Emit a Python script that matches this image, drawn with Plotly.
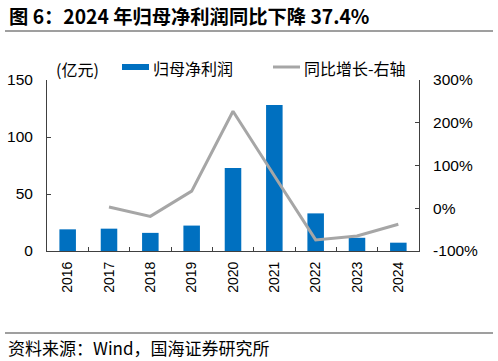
import plotly.graph_objects as go

years = ["2016", "2017", "2018", "2019", "2020", "2021", "2022", "2023", "2024"]
profit = [19.0, 19.6, 15.9, 22.3, 72.8, 128.0, 33.0, 11.6, 7.3]
growth_years = ["2017", "2018", "2019", "2020", "2021", "2022", "2023", "2024"]
growth = [0.03, -0.19, 0.40, 2.27, 0.76, -0.74, -0.65, -0.374]
left_ticks = [0, 50, 100, 150]
right_ticks = [-1, 0, 1, 2, 3]
right_ticktext = ["-100%", "0%", "100%", "200%", "300%"]

title = "图 6：2024 年归母净利润同比下降 37.4%"
source = "资料来源：Wind，国海证券研究所"
bar_name = "归母净利润"
line_name = "同比增长-右轴"
unit = "(亿元)"

BLUE = "#0070C0"
GRAY = "#A6A6A6"
AX = "#404040"
W, H = 498, 361
L, R, T, B = 47, 79, 80, 110
pw, ph = W - L - R, H - T - B

def px(x):
    return (x - L) / pw

def py(y):
    return (H - B - y) / ph

fig = go.Figure()
fig.add_trace(go.Bar(x=years, y=profit, name=bar_name, marker_color=BLUE,
                     marker_line_width=0, yaxis="y"))
fig.add_trace(go.Scatter(x=growth_years, y=growth, name=line_name, mode="lines",
                         line=dict(color=GRAY, width=3), yaxis="y2"))

font_num = "Liberation Sans, Arial, sans-serif"
font_cjk = "Noto Sans CJK SC, sans-serif"

fig.update_layout(
    width=W, height=H,
    margin=dict(l=L, r=R, t=T, b=B, autoexpand=False),
    paper_bgcolor="white", plot_bgcolor="white",
    showlegend=False,
    bargap=0.6,
    xaxis=dict(type="category", tickson="boundaries", ticks="inside", ticklen=4,
               tickcolor=AX, showline=True, linecolor=AX, linewidth=1,
               tickangle=-90, tickfont=dict(family=font_num, size=14, color="#000"),
               ticklabelstandoff=4, showgrid=False),
    yaxis=dict(range=[0, 150], tickvals=left_ticks, ticks="inside", ticklen=4,
               tickcolor=AX, showline=True, linecolor=AX, linewidth=1,
               showgrid=False, zeroline=False,
               tickfont=dict(family=font_num, size=15.5, color="#000"),
               ticklabelstandoff=10),
    yaxis2=dict(range=[-1, 3], tickvals=right_ticks, ticktext=right_ticktext,
                overlaying="y", side="right", ticks="inside", ticklen=4,
                tickcolor=AX, showline=True, linecolor=AX, linewidth=1,
                showgrid=False, zeroline=False,
                tickfont=dict(family=font_num, size=15.5, color="#000"),
                ticklabelstandoff=10),
)

shapes = [
    dict(type="line", xref="paper", yref="paper", x0=px(5), x1=px(493),
         y0=py(31), y1=py(31), line=dict(color="#7F7F7F", width=1.5)),
    dict(type="line", xref="paper", yref="paper", x0=px(5), x1=px(493),
         y0=py(333), y1=py(333), line=dict(color="#7F7F7F", width=1.5)),
    dict(type="rect", xref="paper", yref="paper", x0=px(122), x1=px(149),
         y0=py(70), y1=py(64), fillcolor=BLUE, line=dict(width=0)),
    dict(type="line", xref="paper", yref="paper", x0=px(273), x1=px(300),
         y0=py(67), y1=py(67), line=dict(color=GRAY, width=3)),
]
fig.update_layout(shapes=shapes)

anns = [
    dict(text="<b>" + title + "</b>", x=px(7), y=py(16), xanchor="left", yanchor="middle",
         font=dict(family=font_cjk, size=19.3, color="#000")),
    dict(text=source, x=px(6), y=py(347), xanchor="left", yanchor="middle",
         font=dict(family=font_cjk, size=17, color="#000")),
    dict(text=unit, x=px(54), y=py(69), xanchor="left", yanchor="middle",
         font=dict(family=font_cjk, size=16, color="#000")),
    dict(text=bar_name, x=px(151), y=py(68), xanchor="left", yanchor="middle",
         font=dict(family=font_cjk, size=16, color="#000")),
    dict(text=line_name, x=px(302), y=py(68), xanchor="left", yanchor="middle",
         font=dict(family=font_cjk, size=16, color="#000")),
]
for a in anns:
    a.update(xref="paper", yref="paper", showarrow=False)
fig.update_layout(annotations=anns)

fig.write_html("out.html", config={"displayModeBar": False},
               post_script="document.body.style.margin='0';document.body.style.overflow='hidden';")
